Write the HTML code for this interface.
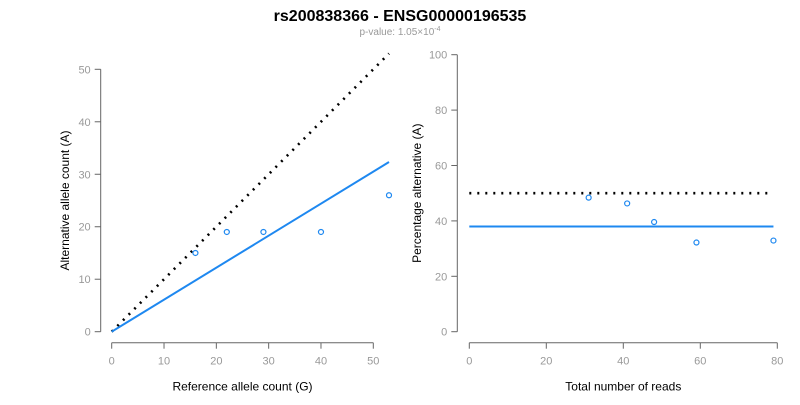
<!DOCTYPE html>
<html><head><meta charset="utf-8"><style>
body{margin:0;background:#fff;width:800px;height:400px;overflow:hidden;font-family:"Liberation Sans",Arial,sans-serif}
</style></head><body>
<svg id="c" width="800" height="400" xmlns="http://www.w3.org/2000/svg" font-family="Liberation Sans, Arial, sans-serif">
<text x="400" y="21" text-anchor="middle" font-size="16" font-weight="bold" fill="#000">rs200838366 - ENSG00000196535</text>
<text x="400" y="35" text-anchor="middle" font-size="10" fill="#999">p-value: 1.05×10<tspan dy="-4" font-size="7">-4</tspan></text>
<g id="left"></g>
<g id="right"></g>
</svg>
<script>
const refCounts=[16,22,29,40,53];
const altCounts=[15,19,19,19,26];
const totalReads=[31,41,48,59,79];
const pctAlt=[48.4,46.3,39.6,32.2,32.9];
const leftXTicks=[0,10,20,30,40,50];
const leftYTicks=[0,10,20,30,40,50];
const rightXTicks=[0,20,40,60,80];
const rightYTicks=[0,20,40,60,80,100];
const leftFitSlope=0.61;
const rightFitLevel=38;
const rightNullLevel=50;

const NS="http://www.w3.org/2000/svg";
function mk(parent,tag,attrs){const e=document.createElementNS(NS,tag);for(const k in attrs)e.setAttribute(k,attrs[k]);parent.appendChild(e);return e;}

function panel(g,o){
  const sx=v=>o.x0+(v-o.xmin)/(o.xmax-o.xmin)*(o.x1-o.x0);
  const sy=v=>o.y0+(v-o.ymin)/(o.ymax-o.ymin)*(o.y1-o.y0);
  const ax='#666';
  const ya=mk(g,'line',{x1:o.yax,x2:o.yax,y1:sy(o.yTicks[0]),y2:sy(o.yTicks[o.yTicks.length-1]),stroke:ax});
  
  o.yTicks.forEach(t=>{
    const l=mk(g,'line',{x1:o.yax-6,x2:o.yax,y1:sy(t),y2:sy(t),stroke:ax});
    
    const tx=mk(g,'text',{x:o.yax-10,y:sy(t)+4,'text-anchor':'end','font-size':11,fill:'#999'});tx.textContent=t;
    
  });
  const xa=mk(g,'line',{x1:sx(o.xTicks[0]),x2:sx(o.xTicks[o.xTicks.length-1]),y1:o.xay,y2:o.xay,stroke:ax});
  
  o.xTicks.forEach(t=>{
    const l=mk(g,'line',{x1:sx(t),x2:sx(t),y1:o.xay,y2:o.xay+6,stroke:ax});
    
    const tx=mk(g,'text',{x:sx(t),y:o.xay+22,'text-anchor':'middle','font-size':11,fill:'#999'});tx.textContent=t;
    
  });
  const xt=mk(g,'text',{x:(sx(o.xTicks[0])+sx(o.xTicks[o.xTicks.length-1]))/2,y:o.xay+48,'text-anchor':'middle','font-size':12,fill:'#000'});xt.textContent=o.xTitle;
  
  const cy=(sy(o.yTicks[0])+sy(o.yTicks[o.yTicks.length-1]))/2;
  const yt=mk(g,'text',{x:o.ytx,y:cy,'text-anchor':'middle','font-size':12,fill:'#000',transform:`rotate(-90 ${o.ytx} ${cy})`});yt.textContent=o.yTitle;
  
  return {sx,sy};
}

const gl=document.getElementById('left');
const L=panel(gl,{x0:111.7,x1:373.3,xmin:0,xmax:50,y0:331.7,y1:69.3,ymin:0,ymax:50,yax:100.7,xay:342.7,xTicks:leftXTicks,yTicks:leftYTicks,xTitle:'Reference allele count (G)',yTitle:'Alternative allele count (A)',ytx:69});
const lmax=Math.max(...refCounts);
let d=mk(gl,'line',{x1:L.sx(0),y1:L.sy(0),x2:L.sx(lmax),y2:L.sy(lmax),stroke:'#000','stroke-width':2.6,'stroke-dasharray':'2 6'});

d=mk(gl,'line',{x1:L.sx(0),y1:L.sy(0),x2:L.sx(lmax),y2:L.sy(lmax*leftFitSlope),stroke:'#1E88F0','stroke-width':2});

refCounts.forEach((r,i)=>{
  const c=mk(gl,'circle',{cx:L.sx(r),cy:L.sy(altCounts[i]),r:2.5,fill:'none',stroke:'#1E88F0','stroke-width':1.2});
  
});

const gr=document.getElementById('right');
const R=panel(gr,{x0:469.3,x1:777.3,xmin:0,xmax:80,y0:331.7,y1:54.7,ymin:0,ymax:100,yax:457.3,xay:342.7,xTicks:rightXTicks,yTicks:rightYTicks,xTitle:'Total number of reads',yTitle:'Percentage alternative (A)',ytx:421});
const rmax=Math.max(...totalReads);
d=mk(gr,'line',{x1:R.sx(0),y1:R.sy(rightNullLevel),x2:R.sx(rmax-1),y2:R.sy(rightNullLevel),stroke:'#000','stroke-width':2.6,'stroke-dasharray':'2 6'});

d=mk(gr,'line',{x1:R.sx(0),y1:R.sy(rightFitLevel),x2:R.sx(rmax),y2:R.sy(rightFitLevel),stroke:'#1E88F0','stroke-width':2});

totalReads.forEach((t,i)=>{
  const c=mk(gr,'circle',{cx:R.sx(t),cy:R.sy(pctAlt[i]),r:2.5,fill:'none',stroke:'#1E88F0','stroke-width':1.2});
  
});
</script>
</body></html>
